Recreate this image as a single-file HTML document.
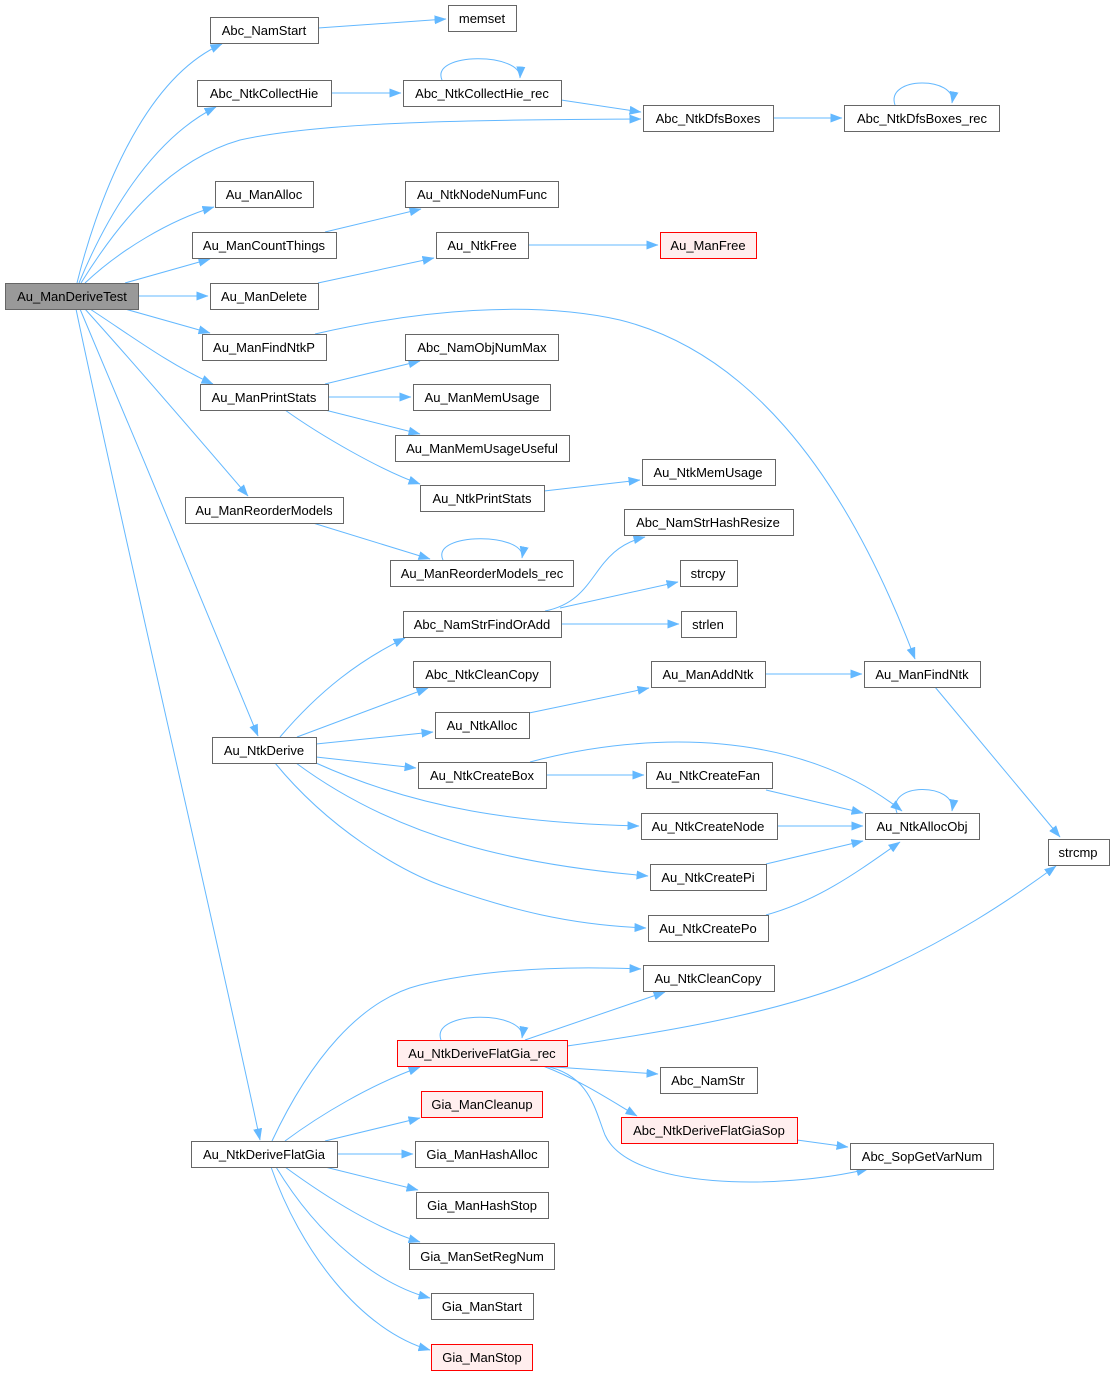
<!DOCTYPE html>
<html><head><meta charset="utf-8"><style>
html,body{margin:0;padding:0;background:#fff;}
svg{display:block;}
text{font-family:"Liberation Sans",Helvetica,sans-serif;font-size:13px;fill:#000;}
</style></head><body>
<svg width="1115" height="1376" viewBox="0 0 1115 1376" xmlns="http://www.w3.org/2000/svg">
<defs><marker id="a" markerWidth="12" markerHeight="9" refX="11.5" refY="4.5" orient="auto" markerUnits="userSpaceOnUse"><path d="M0,0 L12,4.5 L0,9 z" fill="#63b8ff"/></marker></defs>
<g fill="none" stroke="#63b8ff" stroke-width="1" marker-end="url(#a)">
<path d="M77,283 C95,210 140,80 222,44"/>
<path d="M79,283 C105,220 150,140 216,107"/>
<path d="M81,283 C120,220 170,160 240,140 C330,120 500,120 641,119"/>
<path d="M85,283 C120,250 170,220 214,207"/>
<path d="M125,283 L210,259"/>
<path d="M138,296 L208,296"/>
<path d="M125,309 L210,333"/>
<path d="M90,309 C130,335 170,365 213,384"/>
<path d="M85,309 C140,370 200,440 248,496"/>
<path d="M80,309 C140,450 210,620 258,736"/>
<path d="M76,309 C120,520 220,950 260,1140"/>
<path d="M318,28 L446,19"/>
<path d="M331,93 L401,93"/>
<path d="M442,80 C430,52 522,52 520,78"/>
<path d="M561,100 L641,112"/>
<path d="M773,118 L842,118"/>
<path d="M895,105 C885,76 957,76 952,103"/>
<path d="M325,232 L421,209"/>
<path d="M318,283 L434,258"/>
<path d="M528,245 L658,245"/>
<path d="M315,334 C420,310 530,300 620,320 C740,350 840,460 915,659"/>
<path d="M325,384 L420,361"/>
<path d="M328,397 L411,397"/>
<path d="M325,410 L420,434"/>
<path d="M285,410 C320,435 380,470 420,484"/>
<path d="M544,491 L640,480"/>
<path d="M313,523 L430,559"/>
<path d="M443,560 C430,532 527,532 522,558"/>
<path d="M545,611 C600,600 590,550 645,537"/>
<path d="M560,608 L678,582"/>
<path d="M561,624 L679,624"/>
<path d="M280,737 C320,690 360,660 405,638"/>
<path d="M297,737 L428,688"/>
<path d="M316,744 L433,732"/>
<path d="M316,757 L416,768"/>
<path d="M316,763 C420,810 520,823 639,826"/>
<path d="M296,763 C400,840 520,865 648,876"/>
<path d="M275,763 C330,830 400,870 440,885 C510,910 570,925 646,928"/>
<path d="M529,713 L649,688"/>
<path d="M765,674 L862,674"/>
<path d="M935,687 L1060,837"/>
<path d="M546,775 L644,775"/>
<path d="M530,762 C650,730 800,730 902,811"/>
<path d="M766,790 L863,813"/>
<path d="M777,826 L863,826"/>
<path d="M766,864 L863,841"/>
<path d="M766,915 C820,900 860,870 900,842"/>
<path d="M897,813 C885,782 957,782 952,811"/>
<path d="M272,1141 C310,1060 360,1000 420,985 C490,968 570,966 641,969"/>
<path d="M285,1141 C320,1115 370,1085 420,1067"/>
<path d="M325,1141 L420,1118"/>
<path d="M337,1154 L413,1154"/>
<path d="M325,1167 L418,1190"/>
<path d="M285,1167 C330,1200 380,1230 420,1242"/>
<path d="M276,1167 C320,1240 380,1285 430,1298"/>
<path d="M271,1167 C300,1250 360,1330 430,1350"/>
<path d="M441,1040 C430,1010 527,1010 522,1038"/>
<path d="M525,1040 L665,992"/>
<path d="M567,1046 C680,1030 790,1010 870,975 C950,940 1010,900 1056,866"/>
<path d="M540,1066 L658,1074"/>
<path d="M543,1066 C580,1080 610,1100 637,1116"/>
<path d="M545,1066 C590,1075 595,1110 605,1135 C630,1190 780,1190 868,1169"/>
<path d="M797,1140 L848,1147"/>
</g>
<g stroke-width="1">
<rect x="5.5" y="283.5" width="133" height="26" fill="#999" stroke="#666"/>
<g fill="#fff" stroke="#666">
<rect x="210.5" y="17.5" width="108" height="26"/>
<rect x="448.5" y="5.5" width="68" height="26"/>
<rect x="197.5" y="80.5" width="134" height="26"/>
<rect x="403.5" y="80.5" width="158" height="26"/>
<rect x="643.5" y="105.5" width="130" height="26"/>
<rect x="844.5" y="105.5" width="155" height="26"/>
<rect x="215.5" y="181.5" width="98" height="26"/>
<rect x="405.5" y="181.5" width="153" height="26"/>
<rect x="192.5" y="232.5" width="144" height="26"/>
<rect x="436.5" y="232.5" width="92" height="26"/>
<rect x="210.5" y="283.5" width="108" height="26"/>
<rect x="202.5" y="334.5" width="124" height="26"/>
<rect x="405.5" y="334.5" width="153" height="26"/>
<rect x="200.5" y="384.5" width="128" height="26"/>
<rect x="413.5" y="384.5" width="137" height="26"/>
<rect x="395.5" y="435.5" width="174" height="26"/>
<rect x="420.5" y="485.5" width="124" height="26"/>
<rect x="642.5" y="459.5" width="133" height="26"/>
<rect x="185.5" y="497.5" width="158" height="26"/>
<rect x="624.5" y="509.5" width="169" height="26"/>
<rect x="390.5" y="560.5" width="183" height="26"/>
<rect x="680.5" y="560.5" width="57" height="26"/>
<rect x="403.5" y="611.5" width="158" height="26"/>
<rect x="681.5" y="611.5" width="55" height="26"/>
<rect x="413.5" y="661.5" width="137" height="26"/>
<rect x="651.5" y="661.5" width="114" height="26"/>
<rect x="864.5" y="661.5" width="116" height="26"/>
<rect x="435.5" y="712.5" width="94" height="26"/>
<rect x="212.5" y="737.5" width="104" height="26"/>
<rect x="418.5" y="762.5" width="128" height="26"/>
<rect x="646.5" y="762.5" width="126" height="26"/>
<rect x="641.5" y="813.5" width="136" height="26"/>
<rect x="865.5" y="813.5" width="114" height="26"/>
<rect x="1048.5" y="839.5" width="61" height="26"/>
<rect x="650.5" y="864.5" width="116" height="26"/>
<rect x="648.5" y="915.5" width="120" height="26"/>
<rect x="643.5" y="965.5" width="131" height="26"/>
<rect x="660.5" y="1067.5" width="97" height="26"/>
<rect x="191.5" y="1141.5" width="146" height="26"/>
<rect x="415.5" y="1141.5" width="133" height="26"/>
<rect x="850.5" y="1143.5" width="143" height="26"/>
<rect x="416.5" y="1192.5" width="132" height="26"/>
<rect x="409.5" y="1243.5" width="145" height="26"/>
<rect x="431.5" y="1293.5" width="102" height="26"/>
</g>
<g fill="#fee" stroke="#f00">
<rect x="660.5" y="232.5" width="96" height="26"/>
<rect x="397.5" y="1040.5" width="170" height="26"/>
<rect x="421.5" y="1091.5" width="121" height="26"/>
<rect x="621.5" y="1117.5" width="176" height="26"/>
<rect x="431.5" y="1344.5" width="101" height="26"/>
</g>
</g>
<g text-anchor="middle">
<text x="72" y="301">Au_ManDeriveTest</text>
<text x="264" y="35">Abc_NamStart</text>
<text x="482" y="23">memset</text>
<text x="264" y="98">Abc_NtkCollectHie</text>
<text x="482" y="98">Abc_NtkCollectHie_rec</text>
<text x="708" y="123">Abc_NtkDfsBoxes</text>
<text x="922" y="123">Abc_NtkDfsBoxes_rec</text>
<text x="264" y="199">Au_ManAlloc</text>
<text x="482" y="199">Au_NtkNodeNumFunc</text>
<text x="264" y="250">Au_ManCountThings</text>
<text x="482" y="250">Au_NtkFree</text>
<text x="708" y="250">Au_ManFree</text>
<text x="264" y="301">Au_ManDelete</text>
<text x="264" y="352">Au_ManFindNtkP</text>
<text x="482" y="352">Abc_NamObjNumMax</text>
<text x="264" y="402">Au_ManPrintStats</text>
<text x="482" y="402">Au_ManMemUsage</text>
<text x="482" y="453">Au_ManMemUsageUseful</text>
<text x="482" y="503">Au_NtkPrintStats</text>
<text x="708" y="477">Au_NtkMemUsage</text>
<text x="264" y="515">Au_ManReorderModels</text>
<text x="708" y="527">Abc_NamStrHashResize</text>
<text x="482" y="578">Au_ManReorderModels_rec</text>
<text x="708" y="578">strcpy</text>
<text x="482" y="629">Abc_NamStrFindOrAdd</text>
<text x="708" y="629">strlen</text>
<text x="482" y="679">Abc_NtkCleanCopy</text>
<text x="708" y="679">Au_ManAddNtk</text>
<text x="922" y="679">Au_ManFindNtk</text>
<text x="482" y="730">Au_NtkAlloc</text>
<text x="264" y="755">Au_NtkDerive</text>
<text x="482" y="780">Au_NtkCreateBox</text>
<text x="708" y="780">Au_NtkCreateFan</text>
<text x="708" y="831">Au_NtkCreateNode</text>
<text x="922" y="831">Au_NtkAllocObj</text>
<text x="1078" y="857">strcmp</text>
<text x="708" y="882">Au_NtkCreatePi</text>
<text x="708" y="933">Au_NtkCreatePo</text>
<text x="708" y="983">Au_NtkCleanCopy</text>
<text x="482" y="1058">Au_NtkDeriveFlatGia_rec</text>
<text x="708" y="1085">Abc_NamStr</text>
<text x="482" y="1109">Gia_ManCleanup</text>
<text x="709" y="1135">Abc_NtkDeriveFlatGiaSop</text>
<text x="264" y="1159">Au_NtkDeriveFlatGia</text>
<text x="482" y="1159">Gia_ManHashAlloc</text>
<text x="922" y="1161">Abc_SopGetVarNum</text>
<text x="482" y="1210">Gia_ManHashStop</text>
<text x="482" y="1261">Gia_ManSetRegNum</text>
<text x="482" y="1311">Gia_ManStart</text>
<text x="482" y="1362">Gia_ManStop</text>
</g>
</svg>
</body></html>
